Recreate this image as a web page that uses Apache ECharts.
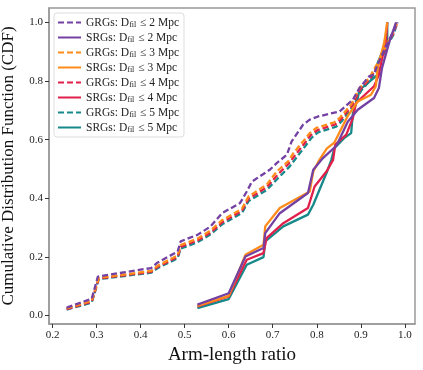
<!DOCTYPE html>
<html>
<head>
<meta charset="utf-8">
<script src="https://cdn.jsdelivr.net/npm/echarts@6/dist/echarts.min.js"></script>
<style>
  html, body { margin: 0; padding: 0; background: #fff; }
  #chart { width: 423px; height: 370px; }
</style>
</head>
<body>
<div id="chart"></div>
<script>
// tick labels
var xTicks = [0.2, 0.3, 0.4, 0.5, 0.6, 0.7, 0.8, 0.9, 1.0];
var yTicks = [0.0, 0.2, 0.4, 0.6, 0.8, 1.0];

// GRGs (dashed), [arm-length ratio, CDF]
var grg2 = [[0.232,0.027],[0.289,0.057],[0.303,0.133],[0.424,0.162],[0.439,0.181],[0.484,0.218],[0.491,0.253],[0.529,0.275],[0.559,0.304],[0.585,0.349],[0.626,0.384],[0.641,0.423],[0.653,0.457],[0.694,0.498],[0.709,0.520],[0.732,0.548],[0.743,0.594],[0.769,0.651],[0.784,0.668],[0.803,0.679],[0.852,0.696],[0.882,0.736],[0.897,0.776],[0.919,0.816],[0.930,0.822],[0.938,0.856],[0.957,0.918],[0.972,0.964],[0.983,1.0]];
var grg3 = [[0.232,0.024],[0.289,0.050],[0.305,0.128],[0.424,0.152],[0.439,0.170],[0.484,0.205],[0.491,0.240],[0.529,0.262],[0.559,0.290],[0.585,0.325],[0.630,0.364],[0.645,0.406],[0.686,0.446],[0.709,0.491],[0.735,0.526],[0.747,0.554],[0.769,0.594],[0.784,0.622],[0.799,0.640],[0.840,0.659],[0.852,0.674],[0.878,0.720],[0.897,0.776],[0.919,0.810],[0.938,0.861],[0.957,0.920],[0.972,0.962],[0.983,1.0]];
var grg4 = [[0.232,0.022],[0.289,0.047],[0.305,0.126],[0.424,0.149],[0.439,0.166],[0.484,0.200],[0.491,0.234],[0.529,0.256],[0.559,0.283],[0.585,0.318],[0.630,0.357],[0.645,0.398],[0.686,0.437],[0.711,0.480],[0.735,0.516],[0.749,0.543],[0.771,0.585],[0.786,0.615],[0.801,0.632],[0.842,0.652],[0.854,0.668],[0.880,0.716],[0.899,0.772],[0.921,0.808],[0.940,0.858],[0.958,0.918],[0.973,0.960],[0.983,1.0]];
var grg5 = [[0.232,0.020],[0.289,0.044],[0.305,0.124],[0.424,0.146],[0.439,0.162],[0.484,0.195],[0.491,0.228],[0.529,0.250],[0.559,0.277],[0.585,0.311],[0.630,0.350],[0.645,0.390],[0.686,0.428],[0.713,0.470],[0.737,0.506],[0.751,0.533],[0.773,0.576],[0.788,0.606],[0.803,0.625],[0.844,0.644],[0.856,0.662],[0.882,0.712],[0.901,0.768],[0.923,0.805],[0.941,0.855],[0.959,0.916],[0.974,0.958],[0.983,1.0]];

// SRGs (solid)
var srg2 = [[0.529,0.037],[0.600,0.076],[0.638,0.201],[0.679,0.230],[0.683,0.281],[0.716,0.349],[0.780,0.418],[0.792,0.497],[0.814,0.537],[0.845,0.580],[0.870,0.660],[0.893,0.702],[0.930,0.742],[0.941,0.776],[0.948,0.844],[0.965,0.935],[0.980,1.0]];
var srg3 = [[0.529,0.033],[0.600,0.067],[0.638,0.207],[0.679,0.241],[0.683,0.304],[0.716,0.367],[0.784,0.423],[0.792,0.491],[0.806,0.531],[0.823,0.570],[0.840,0.590],[0.870,0.680],[0.893,0.730],[0.923,0.753],[0.934,0.782],[0.938,0.844],[0.953,0.930],[0.960,1.0]];
var srg4 = [[0.529,0.031],[0.600,0.065],[0.641,0.190],[0.679,0.213],[0.686,0.264],[0.724,0.315],[0.780,0.367],[0.795,0.440],[0.822,0.491],[0.837,0.531],[0.842,0.583],[0.867,0.617],[0.882,0.674],[0.889,0.725],[0.930,0.782],[0.941,0.821],[0.946,0.861],[0.957,0.935],[0.960,1.0]];
var srg5 = [[0.529,0.025],[0.600,0.056],[0.641,0.173],[0.679,0.199],[0.683,0.253],[0.724,0.304],[0.780,0.344],[0.792,0.378],[0.822,0.486],[0.833,0.531],[0.840,0.571],[0.862,0.605],[0.878,0.622],[0.882,0.690],[0.893,0.742],[0.897,0.770],[0.938,0.821],[0.938,0.861],[0.960,0.941],[0.960,1.0]];

var names = [
  'GRGs: D_fil ≤ 2 Mpc', 'SRGs: D_fil ≤ 2 Mpc',
  'GRGs: D_fil ≤ 3 Mpc', 'SRGs: D_fil ≤ 3 Mpc',
  'GRGs: D_fil ≤ 4 Mpc', 'SRGs: D_fil ≤ 4 Mpc',
  'GRGs: D_fil ≤ 5 Mpc', 'SRGs: D_fil ≤ 5 Mpc'
];
var datasets = [grg2, srg2, grg3, srg3, grg4, srg4, grg5, srg5];
var colors = ['#7340a3', '#7340a3', '#ff8c1a', '#ff8c1a', '#e0204b', '#e0204b', '#17898a', '#17898a'];

var serif = 'Liberation Serif';

var series = names.map(function (n, i) {
  var dashed = n.indexOf('GRGs') === 0;
  return {
    name: n,
    type: 'line',
    data: datasets[i],
    showSymbol: false,
    symbol: 'none',
    animation: false,
    z: 10 - i,
    lineStyle: {
      color: colors[i],
      width: 2.3,
      type: dashed ? [6, 3] : 'solid'
    },
    itemStyle: { color: colors[i] }
  };
});

var chart = echarts.init(document.getElementById('chart'));
chart.setOption({
  backgroundColor: '#fff',
  animation: false,
  grid: {
    left: 49, right: 8, top: 8, bottom: 46,
    containLabel: false,
    outerBoundsMode: 'none',
    show: true, borderColor: '#999', borderWidth: 1.5
  },
  legend: {
    data: names,
    orient: 'vertical',
    left: 54, top: 13,
    padding: [3, 5, 3, 3],
    itemGap: 2,
    itemWidth: 23,
    itemHeight: 13,
    backgroundColor: '#fff',
    borderColor: '#ddd',
    borderWidth: 1,
    borderRadius: 3,
    itemStyle: { opacity: 0 },
    formatter: function (n) {
      var p = n.split('D_fil');
      return '{a|' + p[0] + 'D}{s|fil}{a|' + p[1] + '}';
    },
    textStyle: {
      fontFamily: serif,
      color: '#222',
      rich: {
        a: { fontFamily: serif, fontSize: 11.5, color: '#222', lineHeight: 13 },
        s: { fontFamily: serif, fontSize: 8, color: '#222', verticalAlign: 'bottom', padding: [5, 1, 0, 0], lineHeight: 13 }
      }
    }
  },
  xAxis: {
    type: 'value',
    min: 0.192, max: 1.023,
    name: 'Arm-length ratio',
    nameLocation: 'middle',
    nameGap: 21,
    nameTextStyle: { fontFamily: serif, fontSize: 19, color: '#111' },
    axisLine: { show: true, onZero: false, lineStyle: { color: '#999', width: 1.5 } },
    axisTick: { show: true, length: 4, customValues: xTicks, lineStyle: { color: '#333' } },
    axisLabel: {
      customValues: xTicks, margin: 6,
      fontFamily: serif, fontSize: 11, color: '#222',
      formatter: function (v) { return v.toFixed(1); }
    },
    splitLine: { show: false }
  },
  yAxis: {
    type: 'value',
    min: -0.029, max: 1.049,
    name: 'Cumulative Distribution Function (CDF)',
    nameLocation: 'middle',
    nameGap: 32,
    nameTextStyle: { fontFamily: serif, fontSize: 17, color: '#111' },
    axisLine: { show: true, onZero: false, lineStyle: { color: '#999', width: 1.5 } },
    axisTick: { show: true, length: 4, customValues: yTicks, lineStyle: { color: '#333' } },
    axisLabel: {
      customValues: yTicks, margin: 6,
      fontFamily: serif, fontSize: 11, color: '#222',
      formatter: function (v) { return v.toFixed(1); }
    },
    splitLine: { show: false }
  },
  series: series
});
</script>
</body>
</html>
